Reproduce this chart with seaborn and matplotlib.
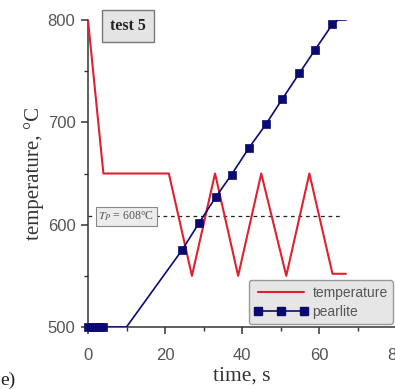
import matplotlib
matplotlib.use("Agg")
import matplotlib.pyplot as plt
import seaborn as sns
import pandas as pd
from matplotlib.lines import Line2D

# ---- data ----
temp_time = [0, 4, 21, 27, 33, 39, 45, 51.5, 57.5, 63.5, 67]
temp_vals = [800, 650, 650, 550, 650, 550, 650, 550, 650, 552, 552]

pearl_line_time = [0, 10, 24.4, 28.9, 33.2, 37.3, 41.8, 46.2, 50.5, 54.9, 59.0, 63.5, 65, 67]
pearl_line_vals = [500, 500, 575, 602, 627, 649, 675, 698, 723, 748, 771, 796, 800, 800]

pearl_mark_time = [0, 1, 2, 3, 4, 24.4, 28.9, 33.2, 37.3, 41.8, 46.2, 50.5, 54.9, 59.0, 63.5]
pearl_mark_vals = [500, 500, 500, 500, 500, 575, 602, 627, 649, 675, 698, 723, 748, 771, 796]

tp_value = 608
tp_end = 66
x_ticks = [0, 20, 40, 60, 80]
y_ticks = [500, 600, 700, 800]

sns.set_style("ticks")
plt.rcParams["font.family"] = ["Liberation Sans", "DejaVu Sans"]
plt.rcParams["mathtext.fontset"] = "stix"

fig = plt.figure(figsize=(3.95, 3.89), dpi=100)
ax = fig.add_axes([88 / 395, 62 / 389, 308 / 395, 307 / 389])

red = "#e02030"
navy = "#0a0a70"

# dashed Tp line
ax.plot([0, tp_end], [tp_value, tp_value], ls=(0, (3, 3)), color="#222222", lw=0.9, zorder=1)

df_t = pd.DataFrame({"time": temp_time, "T": temp_vals})
sns.lineplot(data=df_t, x="time", y="T", ax=ax, color=red, lw=1.5, sort=False,
             estimator=None, zorder=3)

df_p = pd.DataFrame({"time": pearl_line_time, "v": pearl_line_vals})
sns.lineplot(data=df_p, x="time", y="v", ax=ax, color=navy, lw=1.2, sort=False,
             estimator=None, zorder=4)
df_pm = pd.DataFrame({"time": pearl_mark_time, "v": pearl_mark_vals})
sns.scatterplot(data=df_pm, x="time", y="v", ax=ax, color=navy, marker="s", s=40,
                edgecolor=navy, linewidth=0.5, zorder=5, clip_on=False)

ax.set_xlim(0, 80)
ax.set_ylim(500, 800)
ax.set_xticks(x_ticks)
ax.set_yticks(y_ticks)
ax.set_xticks([10, 30, 50, 70], minor=True)
ax.set_yticks([550, 650, 750], minor=True)
ax.tick_params(axis="both", which="major", labelsize=12, labelcolor="#555555",
               length=5, width=1.1, color="#333333", direction="out")
ax.tick_params(axis="x", which="major", pad=10)
ax.tick_params(axis="y", which="major", pad=4)
ax.tick_params(axis="both", which="minor", length=3, width=1.0, color="#333333", direction="out")
for s in ["top", "right"]:
    ax.spines[s].set_visible(False)
for s in ["left", "bottom"]:
    ax.spines[s].set_color("#333333")
    ax.spines[s].set_linewidth(1.1)

ax.set_xlabel("time, s", family=["Liberation Serif"], fontsize=15.5, color="#333333", labelpad=3)
ax.set_ylabel("temperature, °C", family=["Liberation Serif"], fontsize=15, color="#333333", labelpad=3)

ax.text(10.4, 794, "test 5", family=["Liberation Serif"], fontweight="bold", fontsize=11.5,
        ha="center", va="center", color="#222222",
        bbox=dict(boxstyle="square,pad=0.5", fc="#e4e4e4", ec="#777777", lw=1))
ax.text(10, tp_value, r"$T_P$ = 608°C", family=["Liberation Serif"], fontsize=8.5,
        ha="center", va="center", color="#555555", zorder=6,
        bbox=dict(boxstyle="square,pad=0.25", fc="#ececec", ec="#888888", lw=0.8))

handles = [Line2D([], [], color=red, lw=1.5),
           Line2D([], [], color=navy, lw=1.2, marker="s", markersize=6)]
leg = ax.legend(handles, ["temperature", "pearlite"], loc="lower right", fontsize=10,
                numpoints=3, handlelength=3.9, handletextpad=0.3, borderaxespad=0.2,
                borderpad=0.4, labelspacing=0.35, frameon=True, fancybox=True,
                facecolor="#e6e6e6", edgecolor="#999999", framealpha=1)
for t in leg.get_texts():
    t.set_color("#555555")

fig.text(0.0, 0.0, "e)", family=["Liberation Serif"], fontsize=14, color="#222222",
         ha="left", va="bottom")

fig.savefig("out.png", dpi=100)
